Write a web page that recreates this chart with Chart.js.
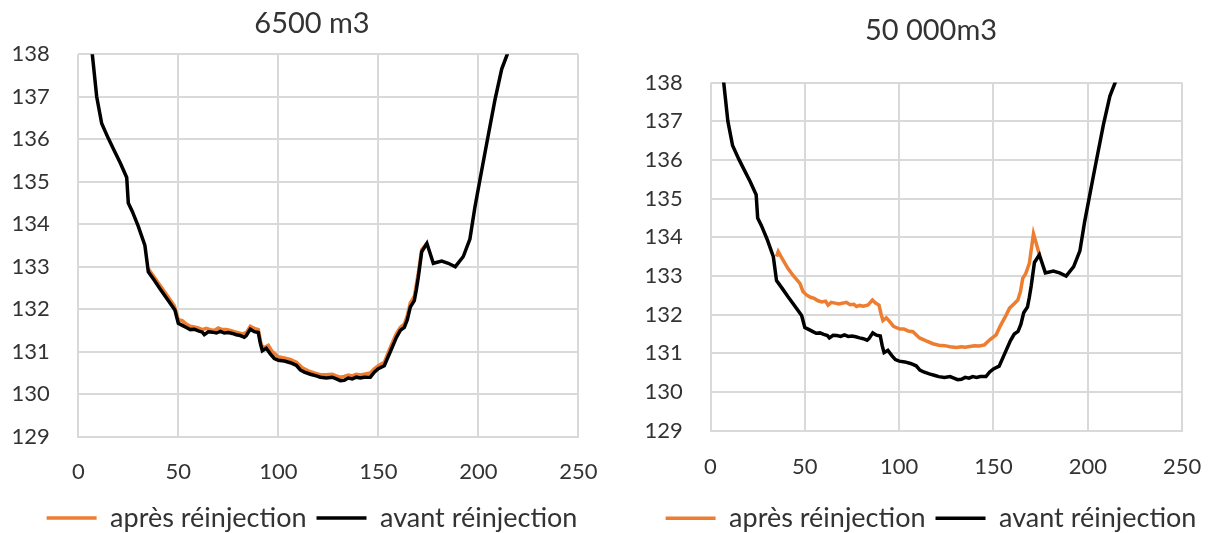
<!DOCTYPE html>
<html>
<head>
<meta charset="utf-8">
<script src="https://cdn.jsdelivr.net/npm/chart.js@4"></script>
<style>
  body { margin: 0; background: #fff; width: 1210px; height: 533px; position: relative; overflow: hidden; }
  canvas { position: absolute; top: 0; }
</style>
</head>
<body>
<canvas id="chart6500" width="624" height="533" style="left:0px"></canvas>
<canvas id="chart50000" width="586" height="533" style="left:638px"></canvas>
<script>
const titles = ['6500 m3', '50 000m3'];
const seriesNames = ['après réinjection', 'avant réinjection'];
const xTicks = [0, 50, 100, 150, 200, 250];
const yTicks = [129, 130, 131, 132, 133, 134, 135, 136, 137, 138];

// profil avant réinjection (identique sur les deux graphiques)
const xAvant = [5, 7, 9.2, 11.7, 15, 18, 21, 24.2, 25, 27, 30, 33.3, 35, 38, 41, 44, 48.3, 50, 52, 54, 56, 58, 60, 62, 63, 65, 67, 69, 71, 73, 75, 77, 79, 81, 83, 84, 86, 88, 90, 91, 92, 94, 96, 98, 100, 103, 106, 109, 111, 113, 116, 119, 121, 124, 127, 129, 131, 133, 135, 137, 139, 141, 143, 146, 148, 150, 153, 156, 159, 161, 163, 164.5, 166, 168, 169, 170, 171.7, 174.3, 177.5, 181.7, 185, 188.5, 192.5, 195.8, 198.3, 200.8, 204.2, 208.3, 211.7, 214.5, 216];
const yAvant = [138.7, 138.0, 137.0, 136.37, 136.02, 135.73, 135.44, 135.1, 134.5, 134.3, 133.95, 133.5, 132.88, 132.68, 132.47, 132.27, 131.98, 131.67, 131.62, 131.57, 131.52, 131.53, 131.49, 131.46, 131.40, 131.47, 131.46, 131.44, 131.48, 131.44, 131.45, 131.43, 131.40, 131.38, 131.34, 131.38, 131.53, 131.47, 131.45, 131.20, 131.02, 131.08, 130.95, 130.84, 130.80, 130.78, 130.74, 130.68, 130.57, 130.52, 130.47, 130.43, 130.40, 130.38, 130.40, 130.36, 130.32, 130.33, 130.38, 130.36, 130.40, 130.38, 130.40, 130.40, 130.52, 130.60, 130.67, 131.0, 131.33, 131.50, 131.57, 131.75, 132.05, 132.2, 132.45, 132.75, 133.35, 133.55, 133.08, 133.13, 133.08, 133.0, 133.24, 133.65, 134.4, 135.04, 135.9, 136.92, 137.65, 138.0, 138.4];

// après réinjection, 6500 m3
const xApres6500 = [35, 38, 41, 44, 48, 50, 52, 54, 56, 58, 60, 62, 64, 66, 68, 70, 72, 74, 76, 78, 80, 82, 84, 86, 88, 90, 91.5, 93, 95, 97, 100, 103, 106, 109, 112, 115, 118, 121, 124, 127, 129, 131, 133, 135, 137, 139, 141, 143, 146, 148, 150, 153, 156, 159, 161, 163, 164.5, 166, 168, 170, 171.7, 174.3];
const yApres6500 = [132.95, 132.75, 132.55, 132.35, 132.08, 131.75, 131.73, 131.65, 131.60, 131.58, 131.56, 131.52, 131.55, 131.52, 131.50, 131.56, 131.52, 131.52, 131.50, 131.47, 131.45, 131.42, 131.45, 131.60, 131.55, 131.52, 131.15, 131.10, 131.15, 131.0, 130.88, 130.85, 130.82, 130.75, 130.62, 130.55, 130.50, 130.46, 130.46, 130.47, 130.43, 130.40, 130.42, 130.45, 130.43, 130.47, 130.45, 130.47, 130.50, 130.60, 130.67, 130.75, 131.1, 131.42, 131.57, 131.65, 131.85, 132.15, 132.3, 132.85, 133.4, 133.55];

// après réinjection, 50 000 m3
const xApres50000 = [35, 35.9, 38, 41, 44, 47.4, 49, 50.9, 53, 55, 57, 59, 61, 62.3, 64, 66, 68, 70.3, 72, 74, 76, 77.4, 79, 81, 83.5, 85.8, 87.5, 89.3, 90.5, 91.4, 93.2, 95, 97, 100.3, 102.5, 104.7, 107.3, 110.8, 114, 117.9, 121, 124, 127, 130.3, 133, 135, 137.3, 140, 142.5, 145.2, 148, 151.4, 153.5, 156.7, 158.5, 161.1, 162.9, 164.3, 165.5, 167, 169, 171.2, 174.4];
const yApres50000 = [133.5, 133.63, 133.45, 133.2, 133.0, 132.81, 132.6, 132.51, 132.45, 132.42, 132.36, 132.33, 132.35, 132.25, 132.32, 132.30, 132.28, 132.30, 132.32, 132.26, 132.27, 132.21, 132.24, 132.22, 132.25, 132.38, 132.30, 132.25, 132.0, 131.85, 131.92, 131.82, 131.70, 131.63, 131.63, 131.58, 131.56, 131.40, 131.33, 131.25, 131.21, 131.20, 131.17, 131.15, 131.17, 131.16, 131.18, 131.20, 131.19, 131.22, 131.35, 131.48, 131.70, 131.99, 132.17, 132.29, 132.38, 132.6, 132.94, 133.05, 133.33, 134.09, 133.54];

const toPoints = (xs, ys) => xs.map((x, i) => ({ x: x, y: ys[i] }));

const font = 'Lato';
const textColor = '#333333';
const gridColor = '#d9d9d9';

function makeChart (id, title, apresX, apresY, box) {
  const ctx = document.getElementById(id).getContext('2d');
  return new Chart(ctx, {
    type: 'line',
    data: {
      datasets: [{
        label: seriesNames[0],
        data: toPoints(apresX, apresY),
        borderColor: '#ed7d31',
        backgroundColor: '#ed7d31',
        borderWidth: 3.5,
        order: 1,
      }, {
        label: seriesNames[1],
        data: toPoints(xAvant, yAvant),
        borderColor: '#000000',
        backgroundColor: '#000000',
        borderWidth: 3.5,
        order: 0,
      }],
    },
    options: {
      responsive: false,
      animation: false,
      devicePixelRatio: 1,
      layout: { padding: { left: 0, right: 0, top: 0, bottom: box.padBottom } },
      elements: { point: { radius: 0 }, line: { tension: 0 } },
      datasets: { line: { clip: 0 } },
      plugins: {
        tooltip: { enabled: false },
        title: {
          display: true,
          text: title,
          color: textColor,
          font: { family: font, size: 29, weight: 'normal' },
          padding: { top: box.titleTop, bottom: box.titleBottom },
        },
        legend: {
          position: 'bottom',
          labels: {
            usePointStyle: true,
            pointStyle: 'line',
            pointStyleWidth: 50,
            padding: 10,
            color: textColor,
            font: { family: font, size: 27 },
            sort: (a, b) => a.datasetIndex - b.datasetIndex,
          },
        },
      },
      scales: {
        x: {
          type: 'linear',
          min: xTicks[0],
          max: xTicks[xTicks.length - 1],
          afterBuildTicks: (s) => { s.ticks = xTicks.map(v => ({ value: v })); },
          afterFit: (s) => { s.height = box.xHeight; },
          grid: { color: gridColor, lineWidth: 2, drawTicks: false },
          border: { display: true, color: gridColor, width: 2 },
          ticks: { color: textColor, padding: box.xPad, font: { family: font, size: 22 } },
        },
        y: {
          min: yTicks[0],
          max: yTicks[yTicks.length - 1],
          afterBuildTicks: (s) => { s.ticks = yTicks.map(v => ({ value: v })); },
          afterFit: (s) => { s.width = box.yWidth; },
          grid: { color: gridColor, lineWidth: 2, drawTicks: false },
          border: { display: false },
          ticks: { color: textColor, padding: box.yPad, font: { family: font, size: 22 } },
        },
        yRight: {
          position: 'right',
          display: true,
          afterFit: (s) => { s.width = box.rightWidth; },
          grid: { display: false },
          border: { display: false },
          ticks: { display: false },
        },
      },
    },
  });
}

makeChart('chart6500', titles[0], xApres6500, yApres6500, {
  padBottom: -8.5, titleTop: 5.9, titleBottom: 13.5,
  xHeight: 57.8, xPad: 22.1, yWidth: 78.3, yPad: 28.5, rightWidth: 45.7,
});
makeChart('chart50000', titles[1], xApres50000, yApres50000, {
  padBottom: -8.8, titleTop: 13.6, titleBottom: 34.1,
  xHeight: 64, xPad: 22.7, yWidth: 72.5, yPad: 27.8, rightWidth: 41,
});
</script>
</body>
</html>
